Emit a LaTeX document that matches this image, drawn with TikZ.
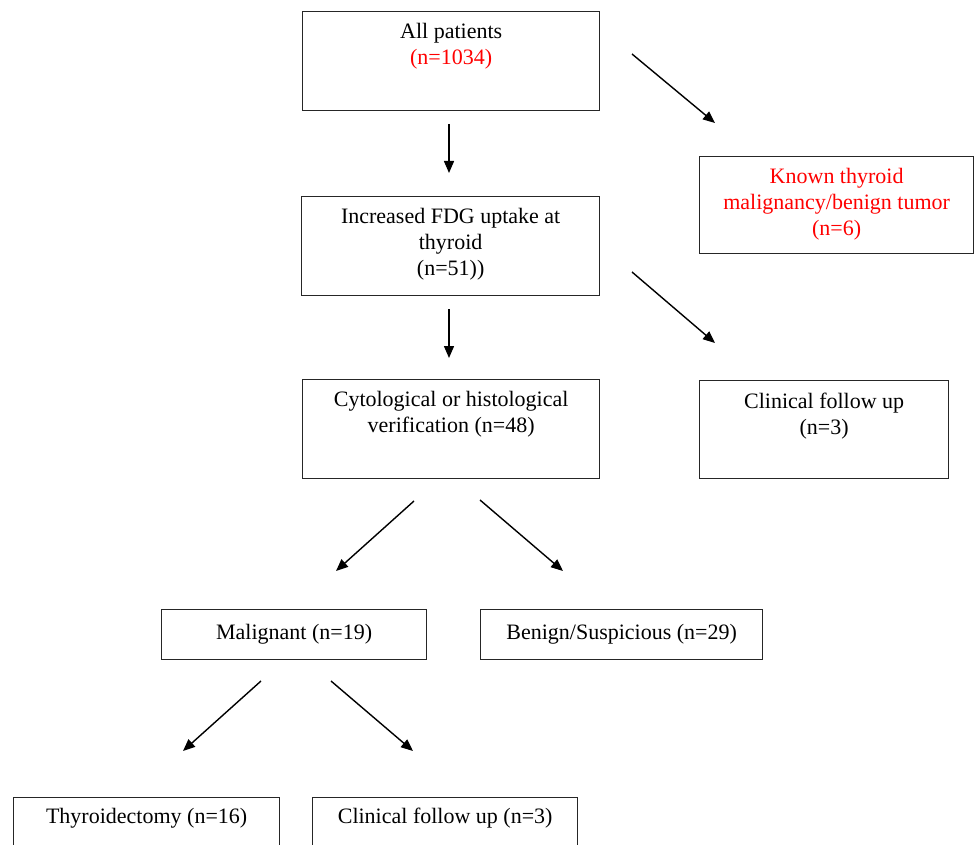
\documentclass[tikz,border=0pt]{standalone}
\usepackage{fontspec}
\setmainfont{Liberation Serif}
\usetikzlibrary{arrows.meta}
\begin{document}
\begin{tikzpicture}[x=1pt,y=-1pt,
 box/.style={draw=black!85, line width=1.3pt, rectangle, inner sep=0, anchor=north west},
 txt/.style={font=\fontsize{22}{26}\selectfont, align=center, inner sep=0},
 arr/.style={-{Triangle[length=12pt,width=10pt]}, line width=1.4pt}]
\clip (0,0) rectangle (974,845);
\fill[white] (0,0) rectangle (974,845);
% boxes
\node[box, minimum width=297pt, minimum height=99pt] (all) at (302,11) {};
\node[box, minimum width=274pt, minimum height=97pt] (known) at (699,156) {};
\node[box, minimum width=298pt, minimum height=99pt] (fdg) at (301,196) {};
\node[box, minimum width=297pt, minimum height=99pt] (cyto) at (302,379) {};
\node[box, minimum width=249pt, minimum height=98pt] (cfua) at (699,380) {};
\node[box, minimum width=265pt, minimum height=50pt, txt] (mal) at (161,609) {Malignant (n=19)};
\node[box, minimum width=282pt, minimum height=50pt, txt] (ben) at (480,609) {Benign/Suspicious (n=29)};
\node[box, minimum width=266pt, minimum height=70pt] (thy) at (13,797) {};
\node[box, minimum width=265pt, minimum height=70pt] (cfub) at (312,797) {};
% texts
\node[txt, anchor=north] (allt) at ([yshift=-12.5pt]all.north) {All patients\\\textcolor{red}{(n=1034)}};
\node[txt, anchor=north, text=red] (knownt) at ([yshift=-12.5pt]known.north) {Known thyroid\\malignancy/benign tumor\\(n=6)};
\node[txt, anchor=north] (fdgt) at ([yshift=-12.5pt]fdg.north) {Increased FDG uptake at\\thyroid\\(n=51))};
\node[txt, anchor=north] (cytot) at ([yshift=-12.5pt]cyto.north) {Cytological or histological\\verification (n=48)};
\node[txt, anchor=north] (cfuat) at ([yshift=-12.5pt]cfua.north) {Clinical follow up\\(n=3)};
\node[txt] (thyt) at ([yshift=-21.5pt]thy.north) {Thyroidectomy (n=16)};
\node[txt] (cfubt) at ([yshift=-21.5pt]cfub.north) {Clinical follow up (n=3)};
% arrow ends
\coordinate (d1s) at (449,124); \coordinate (d1e) at (449,173);
\coordinate (k1s) at (632,54);  \coordinate (k1e) at (715,123);
\coordinate (d2s) at (449,309); \coordinate (d2e) at (449,358);
\coordinate (c1s) at (632,272); \coordinate (c1e) at (715,343);
\coordinate (m1s) at (414,501); \coordinate (m1e) at (336,571);
\coordinate (b1s) at (480,500); \coordinate (b1e) at (563,571);
\coordinate (t1s) at (261,681); \coordinate (t1e) at (183,751);
\coordinate (f1s) at (331,681); \coordinate (f1e) at (413,751);
\draw[arr] (d1s) -- (d1e);
\draw[arr] (k1s) -- (k1e);
\draw[arr] (d2s) -- (d2e);
\draw[arr] (c1s) -- (c1e);
\draw[arr] (m1s) -- (m1e);
\draw[arr] (b1s) -- (b1e);
\draw[arr] (t1s) -- (t1e);
\draw[arr] (f1s) -- (f1e);
\end{tikzpicture}
\end{document}
